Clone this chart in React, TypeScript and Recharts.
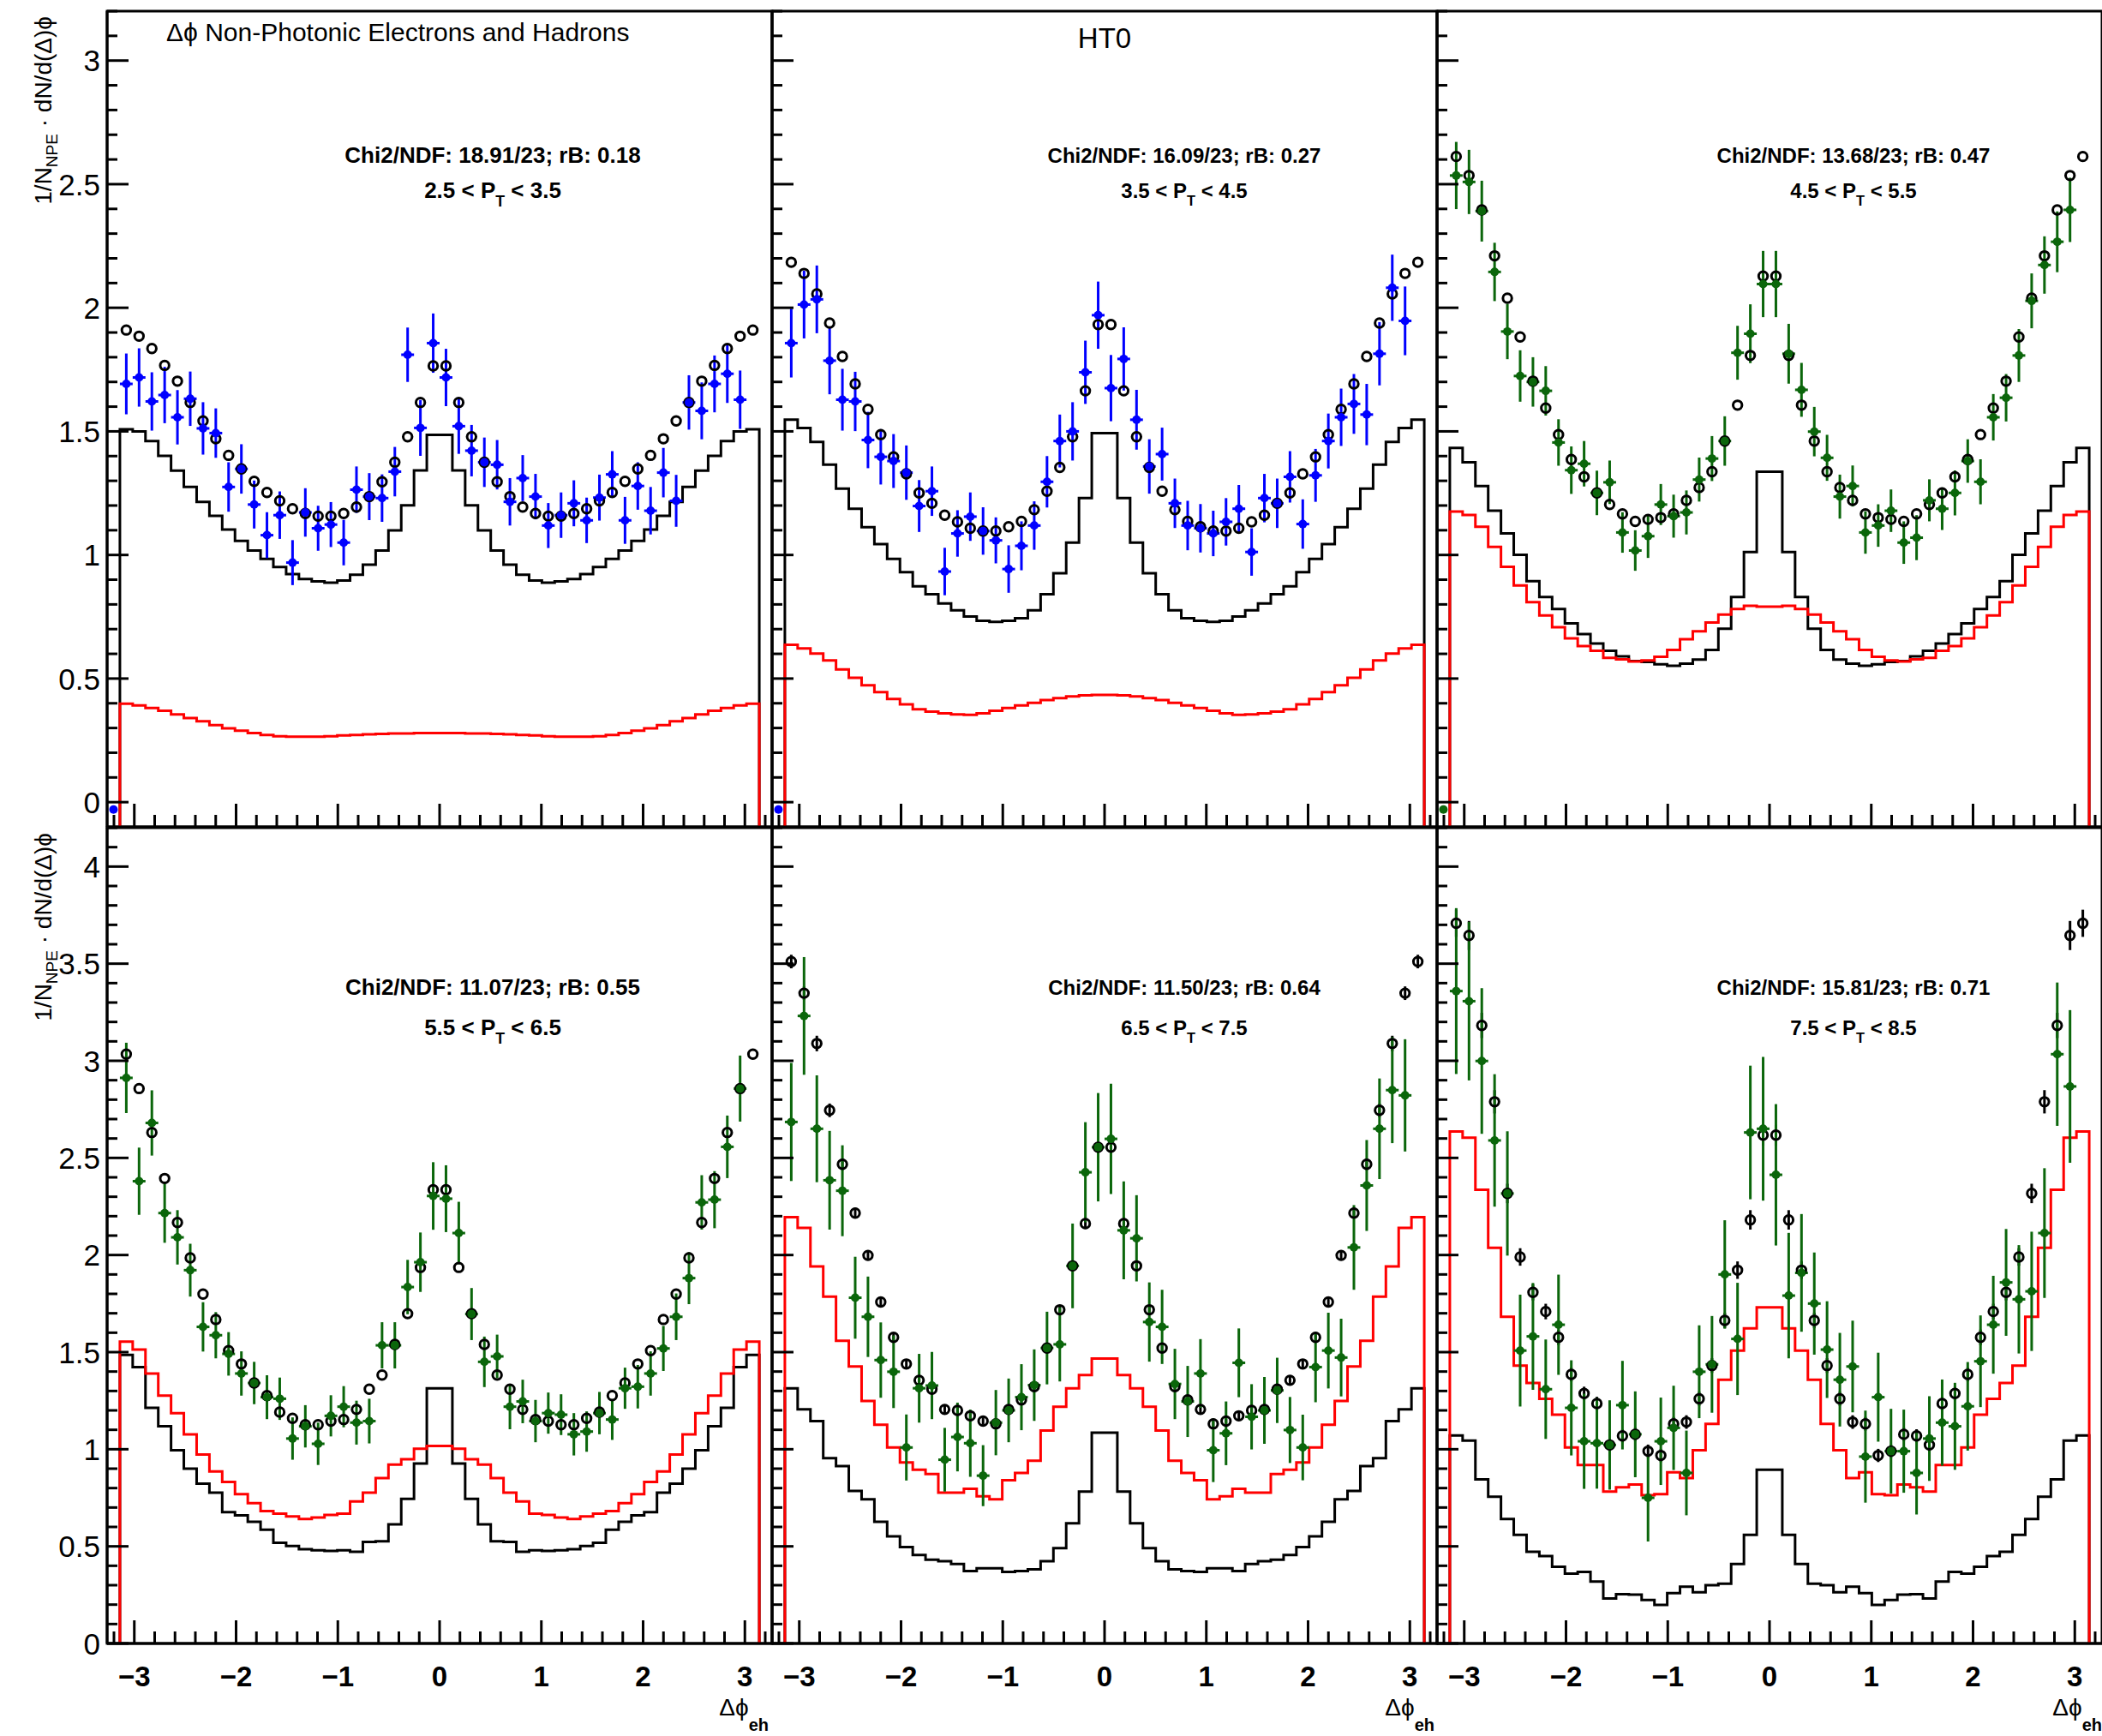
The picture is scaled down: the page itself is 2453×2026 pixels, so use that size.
import React from "react";
import { ComposedChart, Line, Scatter, XAxis, YAxis, ErrorBar, ReferenceArea } from "recharts";

const FONT = "'Liberation Sans', Arial, Helvetica, sans-serif";
const BLUE = "#0000ff";
const GREEN = "#0b660b";
const RED = "#ff0000";
const BLACK = "#000000";

// ---- binning (50 bins over [-pi, pi]; axis shows one extra bin each side) ----
const N_BINS = 50;
const BIN_W = (2 * Math.PI) / N_BINS;
const X_LIMIT = Math.PI + BIN_W;
const binEdges = Array.from({ length: N_BINS + 1 }, (_, i) => -Math.PI + i * BIN_W);
const binCenters = binEdges.slice(0, N_BINS).map((e) => e + BIN_W / 2);
const UNDERFLOW_X = -Math.PI - BIN_W / 2;

// ---- ticks ----
const xTickValues = [-3.2, -3, -2.8, -2.6, -2.4, -2.2, -2, -1.8, -1.6, -1.4, -1.2, -1, -0.8, -0.6, -0.4, -0.2, 0, 0.2, 0.4, 0.6, 0.8, 1, 1.2, 1.4, 1.6, 1.8, 2, 2.2, 2.4, 2.6, 2.8, 3, 3.2];
const xMajorTicks = [-3, -2, -1, 0, 1, 2, 3];
const yTicksTop = [0, 0.1, 0.2, 0.3, 0.4, 0.5, 0.6, 0.7, 0.8, 0.9, 1, 1.1, 1.2, 1.3, 1.4, 1.5, 1.6, 1.7, 1.8, 1.9, 2, 2.1, 2.2, 2.3, 2.4, 2.5, 2.6, 2.7, 2.8, 2.9, 3, 3.1, 3.2];
const yTicksBottom = [0, 0.1, 0.2, 0.3, 0.4, 0.5, 0.6, 0.7, 0.8, 0.9, 1, 1.1, 1.2, 1.3, 1.4, 1.5, 1.6, 1.7, 1.8, 1.9, 2, 2.1, 2.2, 2.3, 2.4, 2.5, 2.6, 2.7, 2.8, 2.9, 3, 3.1, 3.2, 3.3, 3.4, 3.5, 3.6, 3.7, 3.8, 3.9, 4, 4.1, 4.2];
const yMajorTop = [0, 0.5, 1, 1.5, 2, 2.5, 3];
const yMajorBottom = [0, 0.5, 1, 1.5, 2, 2.5, 3, 3.5, 4];

// ---- text ----
const chi2Labels = [
  "Chi2/NDF: 18.91/23; rB: 0.18",
  "Chi2/NDF: 16.09/23; rB: 0.27",
  "Chi2/NDF: 13.68/23; rB: 0.47",
  "Chi2/NDF: 11.07/23; rB: 0.55",
  "Chi2/NDF: 11.50/23; rB: 0.64",
  "Chi2/NDF: 15.81/23; rB: 0.71",
];
const ptLow = ["2.5", "3.5", "4.5", "5.5", "6.5", "7.5"];
const ptHigh = ["3.5", "4.5", "5.5", "6.5", "7.5", "8.5"];

// ---- panel 1: 2.5 < pT < 3.5 ----
const fitP1 = [1.910,1.885,1.835,1.767,1.703,1.617,1.542,1.470,1.403,1.348,1.298,1.253,1.219,1.187,1.168,1.157,1.157,1.168,1.194,1.236,1.296,1.375,1.478,1.617,1.765,
  1.765,1.617,1.478,1.375,1.296,1.236,1.194,1.168,1.157,1.157,1.168,1.187,1.219,1.253,1.298,1.348,1.403,1.470,1.542,1.617,1.703,1.767,1.835,1.885,1.910];
const dataP1 = [1.692,1.718,1.621,1.647,1.557,1.632,1.512,1.493,1.275,1.348,1.204,1.080,1.161,0.969,1.172,1.108,1.123,1.050,1.264,1.236,
  1.230,1.337,1.810,1.514,1.857,1.718,1.521,1.422,1.375,1.365,1.215,1.311,1.236,1.119,1.161,1.209,1.140,1.232,1.326,1.140,
  1.279,1.179,1.333,1.219,1.617,1.583,1.692,1.733,1.628,null];
const dataErrP1 = [0.123,0.118,0.118,0.114,0.110,0.110,0.106,0.100,0.100,0.100,0.097,0.093,0.096,0.091,0.098,0.091,0.091,0.092,0.094,0.095,
  0.096,0.100,0.110,0.113,0.120,0.116,0.112,0.104,0.100,0.100,0.096,0.093,0.092,0.091,0.092,0.093,0.092,0.093,0.094,0.095,
  0.096,0.096,0.100,0.105,0.110,0.115,0.115,0.118,0.118,null];
const nearHistP1 = [1.508,1.500,1.461,1.401,1.341,1.275,1.215,1.158,1.103,1.057,1.018,0.984,0.951,0.923,0.903,0.893,0.888,0.897,0.920,0.961,1.018,1.099,1.201,1.342,1.486,
  1.486,1.342,1.201,1.099,1.018,0.961,0.920,0.897,0.888,0.893,0.903,0.923,0.951,0.984,1.018,1.057,1.103,1.158,1.215,1.275,1.341,1.401,1.461,1.500,1.508];
const awayHistP1 = [0.398,0.391,0.381,0.370,0.355,0.340,0.327,0.312,0.299,0.289,0.280,0.272,0.267,0.265,0.265,0.265,0.267,0.270,0.272,0.274,0.276,0.278,0.278,0.280,0.280,
  0.280,0.280,0.278,0.278,0.276,0.274,0.272,0.270,0.267,0.265,0.265,0.265,0.267,0.272,0.280,0.289,0.299,0.312,0.327,0.340,0.355,0.370,0.381,0.391,0.398];

// ---- panel 2: 3.5 < pT < 4.5 ----
const fitP2 = [2.184,2.139,2.056,1.938,1.803,1.692,1.589,1.487,1.397,1.328,1.251,1.209,1.161,1.134,1.108,1.097,1.097,1.114,1.136,1.183,1.258,1.354,1.478,1.664,1.932,
  1.932,1.664,1.478,1.354,1.258,1.183,1.136,1.114,1.097,1.097,1.108,1.134,1.161,1.209,1.251,1.328,1.397,1.487,1.589,1.692,1.803,1.938,2.056,2.139,2.184];
const dataP2 = [1.857,2.013,2.034,1.786,1.628,1.621,1.465,1.397,1.380,1.333,1.198,1.258,0.933,1.087,1.155,1.097,1.059,0.943,1.037,1.119,
  1.296,1.461,1.500,1.739,1.970,1.675,1.793,1.547,1.358,1.408,1.209,1.119,1.108,1.087,1.134,1.187,1.012,1.230,1.209,1.316,
  1.125,1.322,1.461,1.557,1.611,1.568,1.814,2.081,1.947,null];
const dataErrP2 = [0.139,0.137,0.137,0.136,0.125,0.120,0.114,0.112,0.109,0.110,0.105,0.100,0.096,0.094,0.098,0.096,0.093,0.096,0.099,0.098,
  0.104,0.107,0.118,0.128,0.136,0.134,0.128,0.121,0.110,0.107,0.100,0.100,0.098,0.092,0.096,0.096,0.096,0.098,0.100,0.104,
  0.100,0.107,0.111,0.116,0.121,0.124,0.128,0.134,0.139,null];
const nearHistP2 = [1.547,1.514,1.457,1.365,1.268,1.187,1.112,1.044,0.984,0.930,0.873,0.841,0.804,0.776,0.751,0.734,0.729,0.734,0.744,0.776,0.841,0.926,1.050,1.230,1.493,
  1.493,1.230,1.050,0.926,0.841,0.776,0.744,0.734,0.729,0.734,0.751,0.776,0.804,0.841,0.873,0.930,0.984,1.044,1.112,1.187,1.268,1.365,1.457,1.514,1.547];
const awayHistP2 = [0.637,0.622,0.601,0.573,0.537,0.503,0.473,0.445,0.417,0.396,0.376,0.366,0.359,0.355,0.353,0.359,0.370,0.381,0.391,0.402,0.413,0.421,0.428,0.432,0.434,
  0.434,0.432,0.428,0.421,0.413,0.402,0.391,0.381,0.370,0.359,0.353,0.355,0.359,0.366,0.376,0.396,0.417,0.445,0.473,0.503,0.537,0.573,0.601,0.622,0.637];

// ---- panel 3: 4.5 < pT < 5.5 ----
const fitP3 = [2.612,2.535,2.396,2.210,2.039,1.882,1.703,1.594,1.487,1.386,1.316,1.251,1.204,1.166,1.136,1.144,1.151,1.166,1.221,1.273,1.337,1.461,1.606,1.807,2.128,
  2.128,1.807,1.606,1.461,1.337,1.273,1.221,1.166,1.151,1.144,1.136,1.166,1.204,1.251,1.316,1.386,1.487,1.594,1.703,1.882,2.039,2.210,2.396,2.535,2.612];
const dataP3 = [2.535,2.509,2.391,2.145,1.904,1.724,1.700,1.664,1.455,1.343,1.369,1.251,1.294,1.091,1.018,1.076,1.204,1.157,1.172,1.305,
  1.390,1.461,1.818,1.895,2.096,2.096,1.814,1.668,1.499,1.393,1.236,1.279,1.091,1.119,1.179,1.050,1.070,1.221,1.187,1.251,
  1.380,1.296,1.557,1.636,1.807,2.028,2.173,2.267,2.396,null];
const dataErrP3 = [0.136,0.130,0.123,0.118,0.112,0.104,0.100,0.100,0.094,0.096,0.092,0.090,0.088,0.082,0.082,0.088,0.083,0.087,0.089,0.089,
  0.091,0.100,0.109,0.119,0.134,0.134,0.121,0.109,0.100,0.093,0.089,0.083,0.086,0.086,0.086,0.086,0.091,0.085,0.086,0.091,
  0.088,0.091,0.094,0.096,0.107,0.111,0.116,0.123,0.130,null];
const nearHistP3 = [1.433,1.375,1.279,1.179,1.087,1.001,0.894,0.830,0.781,0.723,0.680,0.642,0.612,0.590,0.571,0.567,0.558,0.552,0.560,0.577,0.616,0.702,0.830,1.012,1.337,
  1.337,1.012,0.830,0.702,0.616,0.577,0.560,0.552,0.558,0.567,0.571,0.590,0.612,0.642,0.680,0.723,0.781,0.830,0.894,1.001,1.087,1.179,1.279,1.375,1.433];
const awayHistP3 = [1.176,1.162,1.114,1.033,0.952,0.877,0.809,0.755,0.708,0.663,0.631,0.612,0.584,0.578,0.569,0.573,0.588,0.616,0.659,0.691,0.727,0.759,0.781,0.794,0.791,
  0.791,0.794,0.781,0.759,0.727,0.691,0.659,0.616,0.588,0.573,0.569,0.578,0.584,0.612,0.631,0.663,0.708,0.755,0.809,0.877,0.952,1.033,1.114,1.162,1.176];

// ---- panel 4: 5.5 < pT < 6.5 ----
const fitP4 = [3.034,2.857,2.631,2.394,2.167,1.985,1.799,1.668,1.508,1.439,1.341,1.276,1.191,1.159,1.126,1.126,1.145,1.153,1.205,1.309,1.382,1.540,1.698,1.936,2.336,
  2.336,1.936,1.698,1.540,1.382,1.309,1.205,1.153,1.145,1.126,1.126,1.159,1.191,1.276,1.341,1.439,1.508,1.668,1.799,1.985,2.167,2.394,2.631,2.857,3.034];
const dataP4 = [2.912,2.380,2.680,2.216,2.091,1.922,1.630,1.587,1.491,1.390,1.341,1.268,1.260,1.055,1.118,1.028,1.172,1.219,1.137,1.145,
  1.535,1.535,1.835,1.963,2.304,2.290,2.113,1.696,1.450,1.478,1.219,1.246,1.145,1.186,1.178,1.077,1.091,1.186,1.153,1.314,
  1.322,1.390,1.519,1.682,1.881,2.271,2.285,2.557,2.857,null];
const dataErrP4 = [0.181,0.173,0.168,0.153,0.140,0.136,0.127,0.119,0.112,0.114,0.109,0.113,0.109,0.109,0.109,0.109,0.106,0.106,0.113,0.115,
  0.119,0.119,0.140,0.153,0.174,0.172,0.161,0.134,0.130,0.112,0.116,0.112,0.109,0.106,0.105,0.109,0.104,0.109,0.105,0.106,
  0.112,0.114,0.116,0.120,0.134,0.140,0.147,0.161,0.170,null];
const nearHistP4 = [1.486,1.423,1.213,1.118,0.995,0.900,0.823,0.777,0.676,0.660,0.627,0.586,0.518,0.502,0.485,0.480,0.477,0.480,0.472,0.523,0.526,0.613,0.744,0.927,1.314,
  1.314,0.927,0.744,0.613,0.526,0.523,0.472,0.480,0.477,0.480,0.485,0.502,0.518,0.586,0.627,0.660,0.676,0.777,0.823,0.900,0.995,1.118,1.213,1.423,1.486];
const awayHistP4 = [1.554,1.513,1.390,1.276,1.186,1.077,0.973,0.886,0.832,0.769,0.722,0.682,0.668,0.654,0.641,0.649,0.662,0.668,0.731,0.777,0.851,0.921,0.949,1.003,1.017,
  1.017,1.003,0.949,0.921,0.851,0.777,0.731,0.668,0.662,0.649,0.641,0.654,0.668,0.682,0.722,0.769,0.832,0.886,0.973,1.077,1.186,1.276,1.390,1.513,1.554];

// ---- panel 5: 6.5 < pT < 7.5 ----
const fitP5 = [3.511,3.348,3.089,2.745,2.467,2.216,1.998,1.758,1.576,1.439,1.355,1.309,1.205,1.200,1.172,1.145,1.131,1.205,1.254,1.322,1.521,1.718,1.944,2.162,2.555,
  2.555,2.162,1.944,1.718,1.521,1.322,1.254,1.205,1.131,1.145,1.172,1.200,1.205,1.309,1.355,1.439,1.576,1.758,1.998,2.216,2.467,2.745,3.089,3.348,3.511];
const fitErrP5 = [0.035,0.035,0.040,0.035,0.030,0.028,0.026,0.024,0.022,0.021,0.020,0.020,0.019,0.019,0.019,0.019,0.019,0.019,0.020,0.021,0.022,0.024,0.026,0.028,0.032,
  0.032,0.028,0.026,0.024,0.022,0.021,0.020,0.019,0.019,0.019,0.019,0.019,0.019,0.020,0.020,0.021,0.022,0.024,0.026,0.028,0.030,0.035,0.040,0.035,0.035];
const dataP5 = [2.685,3.231,2.650,2.385,2.331,1.780,1.682,1.459,1.399,1.009,1.314,1.328,0.946,1.063,1.031,0.864,1.137,1.200,1.268,1.330,
  1.521,1.540,1.944,2.426,2.555,2.598,2.127,2.086,1.655,1.630,1.336,1.246,1.390,0.995,1.082,1.445,1.167,1.200,1.303,1.099,
  1.009,1.423,1.508,1.472,2.039,2.358,2.650,2.849,2.822,null];
const dataErrP5 = [0.304,0.303,0.275,0.254,0.234,0.211,0.207,0.194,0.187,0.170,0.177,0.173,0.164,0.177,0.173,0.157,0.168,0.164,0.170,0.184,
  0.187,0.191,0.218,0.258,0.279,0.284,0.252,0.222,0.204,0.191,0.181,0.183,0.177,0.164,0.164,0.177,0.168,0.172,0.168,0.170,
  0.169,0.181,0.195,0.200,0.218,0.234,0.259,0.273,0.289,null];
const nearHistP5 = [1.314,1.205,1.145,0.954,0.913,0.785,0.742,0.627,0.551,0.496,0.455,0.431,0.423,0.409,0.373,0.387,0.387,0.368,0.373,0.382,0.423,0.491,0.619,0.782,1.085,
  1.085,0.782,0.619,0.491,0.423,0.382,0.373,0.368,0.387,0.387,0.373,0.409,0.423,0.431,0.455,0.496,0.551,0.627,0.742,0.785,0.913,0.954,1.145,1.205,1.314];
const awayHistP5 = [2.195,2.140,1.941,1.786,1.559,1.426,1.249,1.126,1.009,0.932,0.894,0.872,0.777,0.777,0.796,0.758,0.742,0.840,0.878,0.941,1.096,1.219,1.314,1.382,1.467,
  1.467,1.382,1.314,1.219,1.096,0.941,0.878,0.840,0.742,0.758,0.796,0.777,0.777,0.872,0.894,0.932,1.009,1.126,1.249,1.426,1.559,1.786,1.941,2.140,2.195];

// ---- panel 6: 7.5 < pT < 8.5 ----
const fitP6 = [3.708,3.645,3.182,2.789,2.317,1.990,1.808,1.709,1.576,1.385,1.287,1.235,1.022,1.069,1.077,0.990,0.968,1.131,1.140,1.260,1.431,1.663,1.922,2.181,2.617,
  2.617,2.181,1.922,1.663,1.431,1.260,1.140,1.131,0.968,0.990,1.077,1.069,1.022,1.235,1.287,1.385,1.576,1.709,1.808,1.990,2.317,2.789,3.182,3.645,3.708];
const fitErrP6 = [0.070,0.075,0.065,0.060,0.050,0.045,0.042,0.040,0.040,0.036,0.035,0.035,0.034,0.034,0.034,0.034,0.034,0.035,0.035,0.036,0.038,0.040,0.045,0.050,0.055,
  0.055,0.050,0.045,0.040,0.038,0.036,0.035,0.035,0.034,0.034,0.034,0.034,0.034,0.035,0.035,0.036,0.040,0.040,0.042,0.045,0.050,0.060,0.065,0.075,0.070];
const dataP6 = [3.359,3.307,2.999,2.590,2.317,1.508,1.581,1.309,1.641,1.213,1.041,1.031,1.022,1.227,1.077,0.750,1.041,1.110,0.878,1.399,
  1.437,1.900,1.568,2.631,2.650,2.413,1.791,1.908,1.750,1.513,1.358,1.426,0.962,1.268,0.990,0.990,0.878,1.055,1.137,1.118,
  1.221,1.453,1.641,1.859,1.772,1.813,2.113,3.034,2.868,null];
const dataErrP6 = [0.427,0.408,0.375,0.341,0.320,0.288,0.275,0.256,0.258,0.245,0.245,0.234,0.230,0.228,0.221,0.225,0.225,0.217,0.218,0.239,
  0.249,0.279,0.289,0.344,0.370,0.364,0.323,0.303,0.263,0.249,0.241,0.236,0.237,0.229,0.218,0.214,0.214,0.218,0.222,0.224,
  0.228,0.236,0.252,0.275,0.279,0.307,0.334,0.369,0.393,null];
const nearHistP6 = [1.071,1.044,0.845,0.755,0.641,0.559,0.472,0.450,0.395,0.360,0.368,0.319,0.232,0.254,0.251,0.224,0.199,0.259,0.292,0.264,0.300,0.308,0.409,0.559,0.894,
  0.894,0.559,0.409,0.308,0.300,0.264,0.292,0.259,0.199,0.224,0.251,0.254,0.232,0.319,0.368,0.360,0.395,0.450,0.472,0.559,0.641,0.755,0.845,1.044,1.071];
const awayHistP6 = [2.636,2.604,2.336,2.037,1.682,1.431,1.341,1.260,1.178,1.009,0.919,0.919,0.782,0.804,0.818,0.763,0.769,0.881,0.851,0.995,1.131,1.358,1.508,1.622,1.731,
  1.731,1.622,1.508,1.358,1.131,0.995,0.851,0.881,0.769,0.763,0.818,0.804,0.782,0.919,0.919,1.009,1.178,1.260,1.341,1.431,1.682,2.037,2.336,2.604,2.636];

// underflow markers (drawn just left of -pi) for the top-row panels
const underflowY = [-0.03, -0.03, -0.03, null, null, null];

const panels = [
  { fit: fitP1, fitErr: null, data: dataP1, dataErr: dataErrP1, color: BLUE, near: nearHistP1, away: awayHistP1 },
  { fit: fitP2, fitErr: null, data: dataP2, dataErr: dataErrP2, color: BLUE, near: nearHistP2, away: awayHistP2 },
  { fit: fitP3, fitErr: null, data: dataP3, dataErr: dataErrP3, color: GREEN, near: nearHistP3, away: awayHistP3 },
  { fit: fitP4, fitErr: null, data: dataP4, dataErr: dataErrP4, color: GREEN, near: nearHistP4, away: awayHistP4 },
  { fit: fitP5, fitErr: fitErrP5, data: dataP5, dataErr: dataErrP5, color: GREEN, near: nearHistP5, away: awayHistP5 },
  { fit: fitP6, fitErr: fitErrP6, data: dataP6, dataErr: dataErrP6, color: GREEN, near: nearHistP6, away: awayHistP6 },
];

// ---- layout ----
const COL_X = [125, 901, 1677];
const ROW_Y = [13, 966];
const PLOT_W = 776;
const PLOT_H = 952;
const Y_DOMAINS = [[-0.1, 3.2], [0, 4.2]];
const Y_TICKS = [yTicksTop, yTicksBottom];
const Y_MAJORS = [yMajorTop, yMajorBottom];
const LEFT = 120;
const TOP = 10;
const RIGHT = 10;
const BOTTOM = 70;

const CHI2_CX = [575, 1382, 2163];
const CHI2_BASE = [190, 1161];
const PT_BASE = [231, 1208];
const TEXT_SIZE = [26, 24, 24];

const isIn = (arr: number[], v: number) => arr.some((m) => Math.abs(m - v) < 1e-6);
const fmt = (v: number) => (v < 0 ? "\u2212" + String(Math.abs(v)) : String(v));

function histOutline(values: number[], floor: number) {
  const pts: { x: number; y: number }[] = [{ x: binEdges[0], y: floor }];
  values.forEach((v, i) => {
    pts.push({ x: binEdges[i], y: v });
    pts.push({ x: binEdges[i + 1], y: v });
  });
  pts.push({ x: binEdges[N_BINS], y: floor });
  return pts;
}

function makeYTick(showLabel: boolean, majors: number[]) {
  return (props: any) => {
    const { x, y, payload } = props;
    const v = payload.value;
    const major = isIn(majors, v);
    return (
      <g>
        <line x1={x} x2={x + (major ? 25 : 12)} y1={y} y2={y} stroke={BLACK} strokeWidth={3} />
        {major && showLabel ? (
          <text x={x - 8} y={y} dy="0.36em" textAnchor="end" fontSize={35} fontFamily={FONT} fill={BLACK}>
            {fmt(v)}
          </text>
        ) : null}
      </g>
    );
  };
}

function makeXTick(showLabel: boolean) {
  return (props: any) => {
    const { x, y, payload } = props;
    const v = payload.value;
    const major = isIn(xMajorTicks, v);
    return (
      <g>
        <line x1={x} x2={x} y1={y} y2={y - (major ? 27 : 14)} stroke={BLACK} strokeWidth={3} />
        {major && showLabel ? (
          <text x={x} y={y + 50} textAnchor="middle" fontSize={33} fontWeight="bold" fontFamily={FONT} fill={BLACK}>
            {fmt(v)}
          </text>
        ) : null}
      </g>
    );
  };
}

const OpenCircle = (p: any) => <circle cx={p.cx} cy={p.cy} r={5.2} fill="none" stroke={BLACK} strokeWidth={3} />;
const dotShape = (color: string) => (p: any) => <circle cx={p.cx} cy={p.cy} r={5} fill={color} />;

function Panel({ idx }: { idx: number }) {
  const p = panels[idx];
  const row = Math.floor(idx / 3);
  const col = idx % 3;
  const [yMin, yMax] = Y_DOMAINS[row];
  const fitPts = p.fit.map((v, i) => ({ x: binCenters[i], y: v, ey: p.fitErr ? p.fitErr[i] : 0 }));
  const dataPts = p.data
    .map((v, i) => (v === null ? null : { x: binCenters[i], y: v, ey: p.dataErr[i], ex: BIN_W / 2 }))
    .filter((d) => d !== null);
  const uf = underflowY[idx];
  return (
    <div style={{ position: "absolute", left: COL_X[col] - LEFT, top: ROW_Y[row] - TOP }}>
      <ComposedChart
        width={LEFT + PLOT_W + RIGHT}
        height={TOP + PLOT_H + BOTTOM}
        margin={{ top: TOP, right: RIGHT, bottom: 0, left: 0 }}
      >
        <XAxis
          type="number"
          dataKey="x"
          domain={[-X_LIMIT, X_LIMIT]}
          allowDataOverflow
          ticks={xTickValues}
          interval={0}
          height={BOTTOM}
          tickSize={0}
          tickMargin={0}
          tickLine={false}
          axisLine={{ stroke: BLACK, strokeWidth: 3 }}
          tick={makeXTick(row === 1)}
        />
        <YAxis
          type="number"
          domain={[yMin, yMax]}
          allowDataOverflow
          ticks={Y_TICKS[row]}
          interval={0}
          width={LEFT}
          tickSize={0}
          tickMargin={0}
          tickLine={false}
          axisLine={{ stroke: BLACK, strokeWidth: 3 }}
          tick={makeYTick(col === 0, Y_MAJORS[row])}
        />
        <Line
          data={histOutline(p.near, yMin)}
          dataKey="y"
          type="linear"
          stroke={BLACK}
          strokeWidth={3}
          dot={false}
          activeDot={false}
          isAnimationActive={false}
        />
        <Line
          data={histOutline(p.away, yMin)}
          dataKey="y"
          type="linear"
          stroke={RED}
          strokeWidth={3}
          dot={false}
          activeDot={false}
          isAnimationActive={false}
        />
        <Scatter data={fitPts} dataKey="y" shape={OpenCircle} isAnimationActive={false}>
          {p.fitErr ? <ErrorBar dataKey="ey" direction="y" width={0} stroke={BLACK} strokeWidth={3} /> : null}
        </Scatter>
        <Scatter data={dataPts} dataKey="y" shape={dotShape(p.color)} isAnimationActive={false}>
          <ErrorBar dataKey="ey" direction="y" width={0} stroke={p.color} strokeWidth={3} />
          <ErrorBar dataKey="ex" direction="x" width={0} stroke={p.color} strokeWidth={3} />
        </Scatter>
        {uf !== null ? (
          <Scatter data={[{ x: UNDERFLOW_X, y: uf }]} dataKey="y" shape={dotShape(p.color)} isAnimationActive={false} />
        ) : null}
        <ReferenceArea
          x1={-X_LIMIT}
          x2={X_LIMIT}
          y1={yMin}
          y2={yMax}
          fill="none"
          fillOpacity={0}
          stroke={BLACK}
          strokeWidth={3}
        />
      </ComposedChart>
    </div>
  );
}

function Texts() {
  return (
    <svg
      width={2453}
      height={2026}
      style={{ position: "absolute", left: 0, top: 0, pointerEvents: "none" }}
      fontFamily={FONT}
    >
      <text x={194} y={48} fontSize={30} fill={BLACK}>
        {"\u0394\u03d5 Non-Photonic Electrons and Hadrons"}
      </text>
      <text x={1289} y={56} fontSize={33} textAnchor="middle" fill={BLACK}>
        HT0
      </text>
      {chi2Labels.map((lab, i) => {
        const row = Math.floor(i / 3);
        const col = i % 3;
        const fs = TEXT_SIZE[col];
        return (
          <g key={"t" + i} fontWeight="bold" fontSize={fs} fill={BLACK}>
            <text x={CHI2_CX[col]} y={CHI2_BASE[row]} textAnchor="middle">
              {lab}
            </text>
            <text x={CHI2_CX[col]} y={PT_BASE[row]} textAnchor="middle">
              {ptLow[i] + " < P"}
              <tspan fontSize={fs * 0.68} dy={fs * 0.38}>
                T
              </tspan>
              <tspan dy={-fs * 0.38}>{" < " + ptHigh[i]}</tspan>
            </text>
          </g>
        );
      })}
      {ROW_Y.map((y0, r) => (
        <text
          key={"yt" + r}
          transform={`translate(60, ${y0 + 6}) rotate(-90)`}
          textAnchor="end"
          fontSize={28}
          fill={BLACK}
        >
          {"1/N"}
          <tspan fontSize={19} dy={7}>
            NPE
          </tspan>
          <tspan dy={-7}>{" \u00b7 dN/d(\u0394)\u03d5"}</tspan>
        </text>
      ))}
      {[897, 1674, 2453].map((xr, c) => (
        <text key={"xt" + c} x={xr} y={2002} textAnchor="end" fontSize={28} fill={BLACK}>
          {"\u0394\u03d5"}
          <tspan fontSize={20} fontWeight="bold" dy={18}>
            eh
          </tspan>
        </text>
      ))}
    </svg>
  );
}

export default function App() {
  return (
    <div
      style={{
        position: "absolute",
        left: 0,
        top: 0,
        width: 2453,
        height: 2026,
        overflow: "hidden",
        background: "#ffffff",
      }}
    >
      {panels.map((_, i) => (
        <Panel key={i} idx={i} />
      ))}
      <Texts />
    </div>
  );
}
